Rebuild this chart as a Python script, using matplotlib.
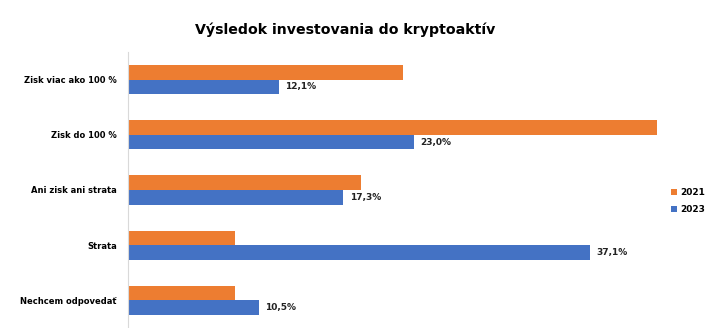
import matplotlib.pyplot as plt
import numpy as np

# data
categories = ["Zisk viac ako 100 %", "Zisk do 100 %", "Ani zisk ani strata", "Strata", "Nechcem odpovedať"]
values_2021 = [22.1, 42.5, 18.7, 8.6, 8.6]
values_2023 = [12.1, 23.0, 17.3, 37.1, 10.5]
series_names = ["2021", "2023"]

orange = "#ED7D31"
blue = "#4472C4"

fig = plt.figure(figsize=(7.17, 3.28), dpi=100)
ax = fig.add_axes([0.1785, 0.0, 0.747, 0.8415])

y = np.arange(len(categories))
h = 0.265

b1 = ax.barh(y - h / 2, values_2021, height=h, color=orange, label=series_names[0])
b2 = ax.barh(y + h / 2, values_2023, height=h, color=blue, label=series_names[1])

# data labels only for 2023
for rect, v in zip(b2, values_2023):
    ax.text(rect.get_width() + 0.5, rect.get_y() + rect.get_height() / 2,
            f"{v:.1f}%".replace(".", ","), va="center", ha="left",
            fontsize=6.5, fontweight="bold", color="#222222")

ax.set_xlim(0, 43)
ax.set_ylim(len(categories) - 0.5, -0.5)
ax.set_yticks(y)
ax.set_yticklabels(categories, fontsize=6.0, fontweight="bold")
ax.tick_params(axis="y", length=0, pad=8)
ax.set_xticks([])

for s in ["top", "right", "bottom"]:
    ax.spines[s].set_visible(False)
ax.spines["left"].set_color("#d9d9d9")
ax.spines["left"].set_linewidth(0.8)

fig.text(0.481, 0.908, "Výsledok investovania do kryptoaktív",
         ha="center", va="center", fontsize=10.2, fontweight="bold")

leg = fig.legend(handles=[b1, b2], loc="center left", bbox_to_anchor=(0.925, 0.387),
                 frameon=False, fontsize=6.5, handlelength=0.6, handleheight=0.6,
                 handletextpad=0.4, labelspacing=0.9)
for t in leg.get_texts():
    t.set_fontweight("bold")

plt.savefig("out.png", dpi=100)
